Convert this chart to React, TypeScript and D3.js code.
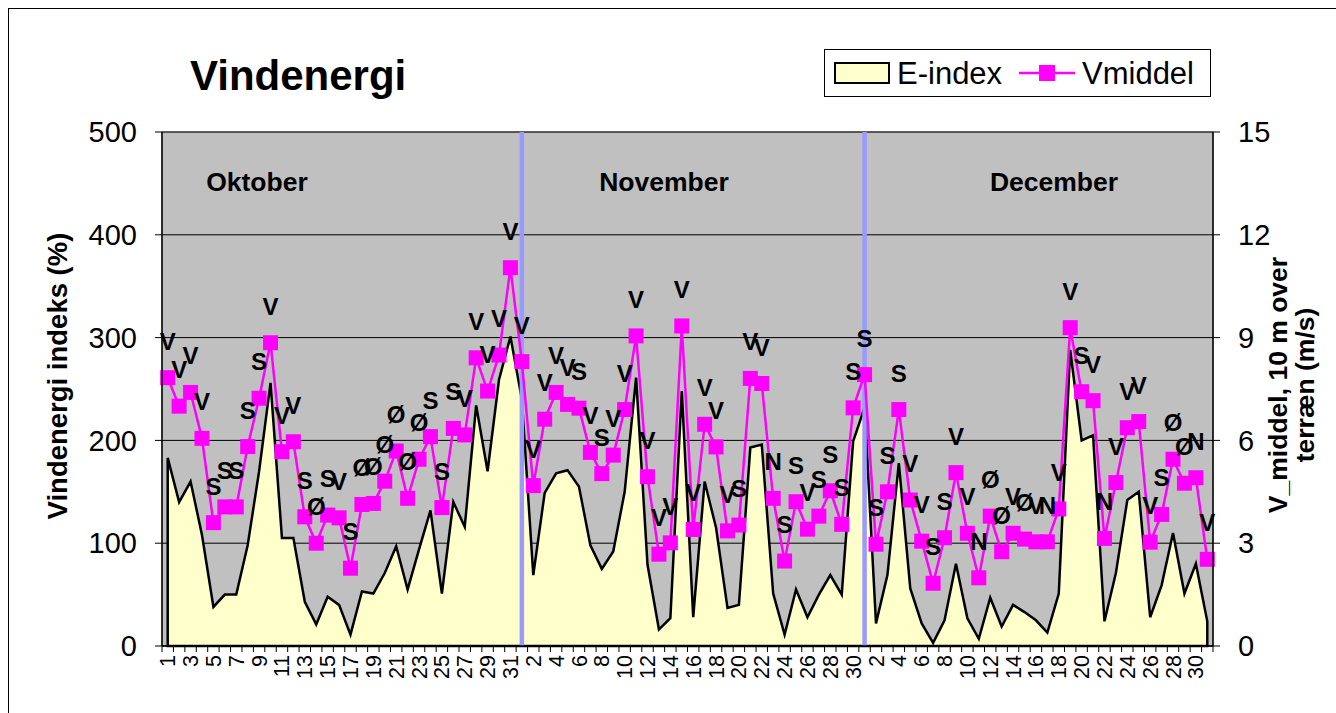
import React from "react";
import * as d3 from "d3";

const months = ["Oktober", "November", "December"];
const monthDays = [31, 30, 31];

const eIndexOct = [183, 140, 160, 108, 38, 50, 50, 98, 170, 256, 105, 105, 43, 21, 48, 40, 11, 53, 51, 71, 97, 55, 94, 132, 51, 140, 116, 234, 170, 259, 301];
const eIndexNov = [240, 69, 149, 168, 171, 155, 98, 75, 92, 150, 261, 79, 16, 27, 248, 28, 160, 115, 37, 40, 193, 196, 51, 11, 55, 28, 50, 69, 50, 199];
const eIndexDec = [232, 22, 69, 178, 56, 22, 3, 25, 80, 27, 7, 47, 19, 40, 33, 25, 13, 51, 288, 200, 205, 24, 71, 142, 150, 28, 59, 110, 51, 80, 24];

const vOct = [7.83, 7.0, 7.4, 6.06, 3.6, 4.06, 4.06, 5.82, 7.23, 8.85, 5.67, 5.96, 3.77, 3.0, 3.82, 3.74, 2.27, 4.13, 4.16, 4.81, 5.69, 4.31, 5.45, 6.11, 4.04, 6.35, 6.16, 8.41, 7.44, 8.49, 11.04];
const vNov = [8.3, 4.68, 6.62, 7.4, 7.05, 6.94, 5.65, 5.03, 5.57, 6.9, 9.05, 4.94, 2.68, 3.01, 9.34, 3.4, 6.47, 5.81, 3.36, 3.53, 7.81, 7.66, 4.31, 2.48, 4.21, 3.41, 3.79, 4.53, 3.55, 6.95];
const vDec = [7.92, 2.97, 4.5, 6.9, 4.26, 3.06, 1.83, 3.16, 5.06, 3.29, 1.99, 3.79, 2.75, 3.29, 3.12, 3.04, 3.04, 4.0, 9.29, 7.42, 7.16, 3.14, 4.77, 6.37, 6.55, 3.03, 3.84, 5.45, 4.75, 4.91, 2.53];

const dirOct = ["V","V","V","V","S","S","S","S","S","V","V","V","S","Ø","S","V","S","Ø","Ø","Ø","Ø","Ø","Ø","S","S","S","V","V","V","V","V"];
const dirNov = ["V","V","V","V","V","S","V","S","V","V","V","V","V","V","V","V","V","V","V","S","V","V","N","S","S","V","S","S","S","S"];
const dirDec = ["S","S","S","S","V","V","S","S","V","V","N","Ø","Ø","V","Ø","V","N","V","V","S","V","N","V","V","V","V","S","Ø","Ø","N","V"];

const leftTicks = [0, 100, 200, 300, 400, 500];
const rightTicks = [0, 3, 6, 9, 12, 15];

const FONT = "'Liberation Sans', Arial, sans-serif";

export default function App() {
  const days: { day: number; month: number; idx: number }[] = [];
  monthDays.forEach((n, m) => {
    for (let d = 1; d <= n; d++) days.push({ day: d, month: m, idx: days.length });
  });
  const eIndex = [...eIndexOct, ...eIndexNov, ...eIndexDec];
  const vMid = [...vOct, ...vNov, ...vDec];
  const dirs = [...dirOct, ...dirNov, ...dirDec];

  const x0 = 162, x1 = 1213, yTop = 132, yBot = 646;
  const x = d3.scaleBand<number>().domain(days.map((d) => d.idx)).range([x0, x1]).padding(0);
  const cx = (i: number) => (x(i) as number) + x.bandwidth() / 2;
  const yL = d3.scaleLinear().domain([0, 500]).range([yBot, yTop]);
  const yR = d3.scaleLinear().domain([0, 15]).range([yBot, yTop]);

  const areaPath = d3.area<number>().x((_, i) => cx(i)).y0(yL(0)).y1((v) => yL(v))(eIndex) || "";
  const linePath = d3.line<number>().x((_, i) => cx(i)).y((v) => yR(v))(vMid) || "";

  const monthStarts = [monthDays[0], monthDays[0] + monthDays[1]];
  const monthLabelX = [257, 664, 1054];
  const boundaries = d3.range(days.length + 1).map((i) => x0 + i * x.bandwidth());

  return (
    <svg width={1336} height={713} style={{ position: "absolute", left: 0, top: 0, display: "block", background: "#fff" }} fontFamily={FONT}>
      <rect x={8.5} y={8.5} width={1400} height={800} fill="#fff" stroke="#000" strokeWidth={1} />
      <rect x={x0} y={yTop} width={x1 - x0} height={yBot - yTop} fill="#C0C0C0" stroke="#808080" strokeWidth={1} />
      {leftTicks.map((t) => (
        <line key={"g" + t} x1={x0} x2={x1} y1={yL(t)} y2={yL(t)} stroke="#000" strokeWidth={1} />
      ))}
      <path d={areaPath + "Z"} fill="#FFFFCC" stroke="#000" strokeWidth={2.5} strokeLinejoin="miter" />
      {monthStarts.map((i) => (
        <line key={"sep" + i} x1={cx(i)} x2={cx(i)} y1={yTop} y2={yBot} stroke="#9999FF" strokeWidth={4.5} />
      ))}
      {months.map((m, i) => (
        <text key={m} x={monthLabelX[i]} y={191} textAnchor="middle" fontSize={26.5} fontWeight="bold">{m}</text>
      ))}
      <path d={linePath} fill="none" stroke="#FF00FF" strokeWidth={2.5} />
      {vMid.map((v, i) => (
        <rect key={"m" + i} x={cx(i) - 7.5} y={yR(v) - 7.5} width={15} height={15} fill="#FF00FF" />
      ))}
      {vMid.map((v, i) => (
        <text key={"l" + i} x={cx(i)} y={yR(v) - 28} textAnchor="middle" fontSize={24} fontWeight="bold" fill="#000">{dirs[i]}</text>
      ))}
      <line x1={x0} x2={x0} y1={yTop} y2={yBot} stroke="#000" strokeWidth={1.5} />
      <line x1={x1} x2={x1} y1={yTop} y2={yBot} stroke="#000" strokeWidth={1.5} />
      <line x1={x0} x2={x1} y1={yBot} y2={yBot} stroke="#000" strokeWidth={1.5} />
      {leftTicks.map((t) => (
        <g key={"lt" + t}>
          <line x1={x0 - 7} x2={x0} y1={yL(t)} y2={yL(t)} stroke="#000" />
          <text x={137} y={yL(t)} dy="0.35em" textAnchor="end" fontSize={29}>{t}</text>
        </g>
      ))}
      {rightTicks.map((t) => (
        <g key={"rt" + t}>
          <line x1={x1} x2={x1 + 7} y1={yR(t)} y2={yR(t)} stroke="#000" />
          <text x={1238} y={yR(t)} dy="0.35em" textAnchor="start" fontSize={29}>{t}</text>
        </g>
      ))}
      {boundaries.map((b, i) => (
        <line key={"xt" + i} x1={b} x2={b} y1={yBot} y2={yBot + 6} stroke="#000" />
      ))}
      {days.filter((d) => d.idx % 2 === 0).map((d) => (
        <text key={"xl" + d.idx} transform={`translate(${cx(d.idx)},${yBot + 9}) rotate(-90)`} textAnchor="end" dy="0.35em" fontSize={21.5}>{d.day}</text>
      ))}
      <text transform="translate(67,376) rotate(-90)" textAnchor="middle" fontSize={27.5} fontWeight="bold">Vindenergi indeks (%)</text>
      <text transform="translate(1287,385) rotate(-90)" textAnchor="middle" fontSize={26.5} fontWeight="bold">V_middel, 10 m over</text>
      <text transform="translate(1314,385) rotate(-90)" textAnchor="middle" fontSize={26.5} fontWeight="bold">terræn (m/s)</text>
      <text x={190} y={90} fontSize={42} fontWeight="bold">Vindenergi</text>
      <rect x={824.5} y={49.5} width={386} height={47} fill="#fff" stroke="#000" strokeWidth={1} />
      <rect x={835} y={63} width={54} height={20} fill="#FFFFCC" stroke="#000" strokeWidth={2} />
      <text x={897} y={84} fontSize={31}>E-index</text>
      <line x1={1019} x2={1075} y1={73} y2={73} stroke="#FF00FF" strokeWidth={2.5} />
      <rect x={1039} y={65} width={16} height={16} fill="#FF00FF" />
      <text x={1082} y={84} fontSize={31}>Vmiddel</text>
    </svg>
  );
}
